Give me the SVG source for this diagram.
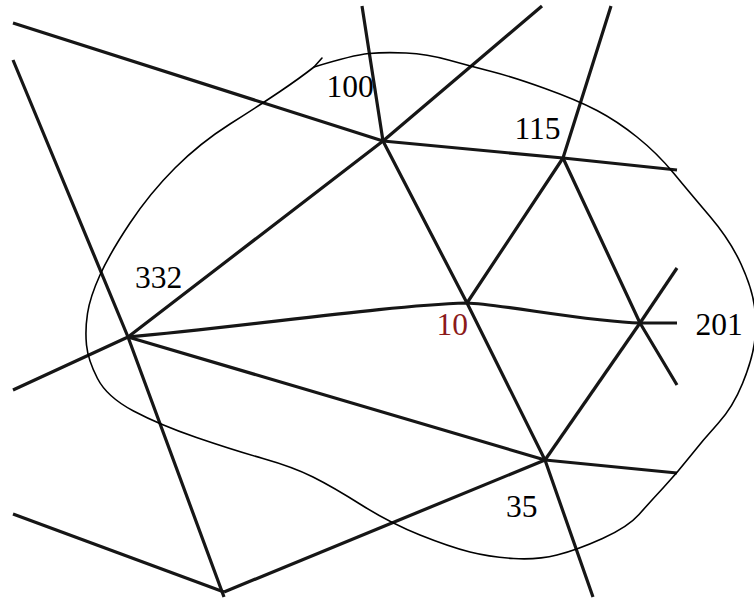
<svg xmlns="http://www.w3.org/2000/svg" width="754" height="599" viewBox="0 0 754 599">
<style>
.road{fill:none;stroke:#161616;stroke-width:3.2;stroke-linejoin:round}
.loop{fill:none;stroke:#000;stroke-width:1.6;stroke-linejoin:round;stroke-linecap:round}
.lbl{font-family:"Liberation Serif","Times New Roman",serif;font-size:31.5px;fill:#000}
.red{fill:#8b1a1a}
</style>
<rect width="754" height="599" fill="#fff"/>
<g id="connectors">
<polyline class="road" points="13,23 383,141 563,158 677,170"/>
<polyline class="road" points="362,6 383,141 467,303 545,460 593,597"/>
<polyline class="road" points="13,390 128,337 383,141 542,6"/>
<polyline class="road" points="611,6 563,158 467,303"/>
<polyline class="road" points="563,158 640,323 677,385"/>
<path class="road" d="M128,337 C250,326 380,306 467,303 C500,304 590,322 640,323 L677,323"/>
<polyline class="road" points="640,323 677,268"/>
<polyline class="road" points="640,323 545,460"/>
<polyline class="road" points="128,337 545,460 677,473"/>
<polyline class="road" points="13,60 128,337 224,597"/>
<polyline class="road" points="13,514 224,592"/>
<polyline class="road" points="224,592 545,460"/>
</g>
<g id="boundary">
<path class="loop" d="M314,67 Q353,55 369,53.5 Q385,52 406,53 Q427,54 448.5,60 Q470,66 491.5,71.5 Q513,77 545,88.5 Q577,100 597,110.5 Q617,121 637,137 Q657,153 673.5,173 Q690,193 710,216.5 Q730,240 741,264 Q752,288 754.5,306.5 Q757,325 754.5,342.5 Q752,360 742.5,383.5 Q733,407 718,423.5 Q703,440 690,456.5 Q677,473 663.5,487.5 Q650,502 639,514.5 Q628,527 602.5,538.5 Q577,550 557,555 Q537,560 513.5,558.5 Q490,557 470,552 Q450,547 420,535 Q390,523 361.5,505 Q333,487 313,477 Q293,467 263,458.5 Q233,450 196.5,437.5 Q160,425 133.5,411 Q107,397 97.5,378.5 Q88,360 86.5,345 Q85,330 87.5,313.5 Q90,297 100,275 Q110,253 130,223 Q150,193 175,168 Q200,143 230,124 Q260,105 280,91.5 Q300,78 314,67 Z"/>
<line class="loop" x1="314" y1="67" x2="322" y2="58"/>
</g>
<g id="node-100"><text class="lbl" x="326.5" y="97">100</text></g>
<g id="node-115"><text class="lbl" x="514.5" y="139">115</text></g>
<g id="node-332"><text class="lbl" x="135" y="288">332</text></g>
<g id="node-10"><text class="lbl red" x="436.5" y="335">10</text></g>
<g id="node-201"><text class="lbl" x="695.5" y="335">201</text></g>
<g id="node-35"><text class="lbl" x="506" y="517">35</text></g>
</svg>
